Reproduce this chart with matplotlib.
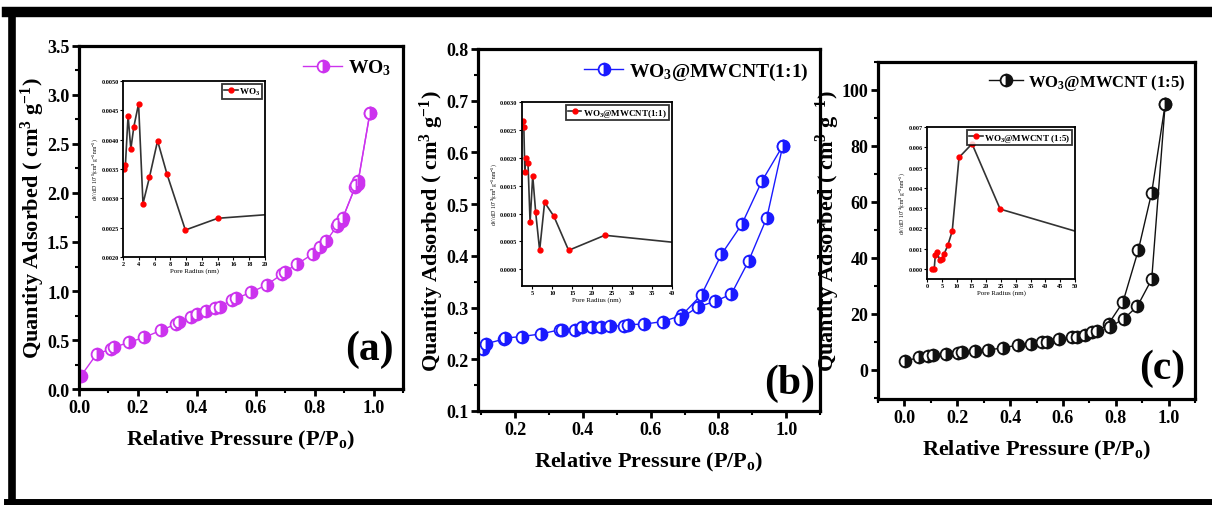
import matplotlib
matplotlib.use("Agg")
import matplotlib.pyplot as plt
from matplotlib.ticker import MultipleLocator, FormatStrFormatter
from matplotlib.lines import Line2D

plt.rcParams['font.family'] = ['Liberation Serif', 'DejaVu Serif']
plt.rcParams['font.weight'] = 'bold'
plt.rcParams['mathtext.fontset'] = 'custom'
plt.rcParams['mathtext.rm'] = 'Liberation Serif:bold'
plt.rcParams['mathtext.it'] = 'Liberation Serif:bold'
plt.rcParams['mathtext.bf'] = 'Liberation Serif:bold'

# ---------------- data: main isotherms ----------------
a_ads_x = [0.007, 0.06, 0.109, 0.12, 0.168, 0.222, 0.279, 0.33, 0.339, 0.379, 0.40, 0.43,
           0.461, 0.48, 0.518, 0.533, 0.584, 0.638, 0.69, 0.698, 0.741, 0.793, 0.818, 0.84,
           0.875, 0.892, 0.937, 0.946, 0.988]
a_ads_y = [0.136, 0.357, 0.408, 0.425, 0.476, 0.527, 0.60, 0.663, 0.68, 0.73, 0.765, 0.80,
           0.826, 0.84, 0.911, 0.925, 0.986, 1.064, 1.173, 1.197, 1.275, 1.377, 1.445, 1.513,
           1.659, 1.717, 2.056, 2.09, 2.821]
a_des_x = [0.988, 0.948, 0.94, 0.895, 0.88]
a_des_y = [2.821, 2.12, 2.08, 1.74, 1.68]

b_ads_x = [0.105, 0.114, 0.166, 0.17, 0.219, 0.276, 0.331, 0.338, 0.375, 0.397, 0.427, 0.453,
           0.48, 0.52, 0.532, 0.581, 0.636, 0.692, 0.75, 0.809, 0.869, 0.928, 0.99]
b_ads_y = [0.220, 0.230, 0.239, 0.241, 0.244, 0.249, 0.257, 0.257, 0.257, 0.263, 0.263, 0.263,
           0.264, 0.265, 0.267, 0.268, 0.273, 0.285, 0.325, 0.403, 0.461, 0.544, 0.613]
b_des_x = [0.99, 0.943, 0.889, 0.838, 0.79, 0.739, 0.686]
b_des_y = [0.613, 0.474, 0.390, 0.326, 0.312, 0.301, 0.278]

c_ads_x = [0.004, 0.054, 0.089, 0.108, 0.159, 0.204, 0.217, 0.268, 0.316, 0.373, 0.431, 0.478,
           0.522, 0.541, 0.586, 0.633, 0.653, 0.682, 0.71, 0.729, 0.773, 0.827, 0.885, 0.936, 0.987]
c_ads_y = [3.0, 4.4, 4.9, 5.3, 5.6, 6.0, 6.2, 6.6, 7.0, 7.8, 8.8, 9.2,
           9.8, 10.0, 10.8, 11.5, 11.8, 12.4, 13.4, 13.7, 16.4, 24.1, 42.6, 63.3, 94.9]
c_des_x = [0.987, 0.936, 0.882, 0.831, 0.78]
c_des_y = [94.9, 32.3, 22.7, 18.2, 15.4]

# ---------------- data: insets (pore size distribution) ----------------
ia_x = [2.09, 2.3, 2.64, 2.99, 3.37, 3.97, 4.53, 5.35, 6.38, 7.58, 9.9, 14.0, 24.0]
ia_y = [0.00350, 0.00356, 0.00441, 0.00384, 0.00422, 0.00461, 0.00291, 0.00336, 0.00398,
        0.00341, 0.00246, 0.00266, 0.00276]
ib_x = [2.68, 2.85, 3.1, 3.4, 3.9, 4.42, 5.08, 5.83, 6.82, 8.07, 10.4, 14.1, 23.2, 45.0]
ib_y = [0.00266, 0.00255, 0.00175, 0.00200, 0.00190, 0.00084, 0.00168, 0.00102, 0.00034,
        0.00120, 0.00095, 0.00034, 0.00061, 0.00045]
ic_x = [1.7, 2.4, 2.8, 3.4, 4.3, 5.1, 5.8, 7.0, 8.5, 10.8, 15.2, 24.7, 55.0]
ic_y = [-0.00003, -0.00003, 0.00070, 0.00083, 0.00042, 0.00050, 0.00075, 0.00116, 0.00186,
        0.00550, 0.00617, 0.00295, 0.00165]

labels = ['WO$_3$', 'WO$_3$@MWCNT(1:1)', 'WO$_3$@MWCNT (1:5)']
panel_tags = ['(a)', '(b)', '(c)']
colors = ['#CC33EE', '#1A1AFF', '#111111']

fig = plt.figure(figsize=(12.12, 5.06), dpi=100)

# outer frame
fig.add_artist(Line2D([0.006, 1.0], [0.9743, 0.9743], transform=fig.transFigure, color='black', lw=7.5))
fig.add_artist(Line2D([0.0095, 0.0095], [0.0, 0.9743], transform=fig.transFigure, color='black', lw=5.5))
fig.add_artist(Line2D([0.006, 1.0], [0.0055, 0.0055], transform=fig.transFigure, color='black', lw=5))

main_rects = [[0.0652, 0.2292, 0.2673, 0.678],
              [0.3944, 0.1858, 0.2822, 0.7154],
              [0.7244, 0.2095, 0.2616, 0.666]]
inset_rects = [[0.1015, 0.4901, 0.1172, 0.3478],
               [0.4304, 0.4328, 0.1238, 0.3636],
               [0.7649, 0.4466, 0.1221, 0.3004]]

ads = [(a_ads_x, a_ads_y, a_des_x, a_des_y), (b_ads_x, b_ads_y, b_des_x, b_des_y),
       (c_ads_x, c_ads_y, c_des_x, c_des_y)]
ins = [(ia_x, ia_y), (ib_x, ib_y), (ic_x, ic_y)]

xlims = [(0, 1.1), (0.09, 1.1), (-0.1, 1.1)]
ylims = [(0, 3.5), (0.1, 0.8), (-10.5, 110)]
ymaj = [0.5, 0.1, 20]
yfmt = ['%.1f', '%.1f', '%d']
xlabel_pad = [9, 9, 9]
ylabel_pad = [0, 0, 0]
leg_size = [14, 14, 12]
tag_pos = [(0.97, 0.06), (0.985, 0.025), (0.97, 0.035)]

ins_xlim = [(2, 20), (2.3, 40), (0, 50)]
ins_ylim = [(0.0020, 0.0050), (-0.0003, 0.0030), (-0.0005, 0.0070)]
ins_xmaj = [2, 5, 5]
ins_ymaj = [0.0005, 0.0005, 0.001]
ins_yfmt = ['%.4f', '%.4f', '%.3f']
ins_ylab = ["dV/dD' 10$^{-1}$(cm$^3$ g$^{-1}$ nm$^{-1}$)",
            "dV/dD' 10$^{-3}$(cm$^3$ g$^{-1}$ nm$^{-1}$)",
            "dV/dD' 10$^{-3}$(cm$^3$ g$^{-1}$ nm$^{-1}$)"]
ins_xlab = ['Pore Radius (nm)', 'Pore Radius (nm)', 'Pore Radius (nm)']

for i in range(3):
    ax = fig.add_axes(main_rects[i])
    axx, ayy, dxx, dyy = ads[i]
    c = colors[i]
    mk = dict(marker='o', markersize=8.5, fillstyle='right', markerfacecoloralt='white',
              markeredgecolor=c, markerfacecolor=c, markeredgewidth=1.3)
    ax.plot(axx, ayy, color=c, lw=1.0, label=labels[i], **mk)
    ax.plot(dxx, dyy, color=c, lw=1.0, **mk)
    ax.set_xlim(*xlims[i])
    ax.set_ylim(*ylims[i])
    ax.xaxis.set_major_locator(MultipleLocator(0.2))
    ax.xaxis.set_minor_locator(MultipleLocator(0.1))
    ax.yaxis.set_major_locator(MultipleLocator(ymaj[i]))
    ax.yaxis.set_minor_locator(MultipleLocator(ymaj[i] / 2))
    ax.xaxis.set_major_formatter(FormatStrFormatter('%.1f'))
    ax.yaxis.set_major_formatter(FormatStrFormatter(yfmt[i]))
    if i == 1:
        ax.set_xticks([0.2, 0.4, 0.6, 0.8, 1.0])
    else:
        ax.set_xticks([0.0, 0.2, 0.4, 0.6, 0.8, 1.0])
    for s in ax.spines.values():
        s.set_linewidth(2.3)
    ax.tick_params(which='major', direction='out', length=5, width=2, labelsize=13, pad=2)
    ax.tick_params(which='minor', direction='out', length=3, width=1.5)
    for t in ax.get_xticklabels() + ax.get_yticklabels():
        t.set_fontweight('bold')
    ax.set_xlabel('Relative Pressure (P/P$_o$)', fontsize=16, fontweight='bold', labelpad=xlabel_pad[i])
    ax.set_ylabel('Quantity Adsorbed ( cm$^3$ g$^{-1}$)', fontsize=16, fontweight='bold',
                  labelpad=ylabel_pad[i])
    ax.legend(loc='upper right', frameon=False, fontsize=leg_size[i], handlelength=2.0,
              handletextpad=0.3, borderaxespad=0.2)
    ax.text(tag_pos[i][0], tag_pos[i][1], panel_tags[i], transform=ax.transAxes,
            ha='right', va='bottom', fontsize=30, fontweight='bold')

    # inset
    ix, iy = ins[i]
    ia = fig.add_axes(inset_rects[i])
    ia.plot(ix, iy, color='#333333', lw=1.2, marker='o', markersize=3.5,
            markerfacecolor='red', markeredgecolor='red', label=labels[i])
    ia.set_xlim(*ins_xlim[i])
    ia.set_ylim(*ins_ylim[i])
    ia.xaxis.set_major_locator(MultipleLocator(ins_xmaj[i]))
    ia.yaxis.set_major_locator(MultipleLocator(ins_ymaj[i]))
    ia.yaxis.set_major_formatter(FormatStrFormatter(ins_yfmt[i]))
    ia.xaxis.set_major_formatter(FormatStrFormatter('%d'))
    if i == 1:
        ia.set_xticks([5, 10, 15, 20, 25, 30, 35, 40])
    for s in ia.spines.values():
        s.set_linewidth(1.3)
    ia.tick_params(direction='out', length=2, width=0.8, labelsize=4.5, pad=1)
    ia.set_xlabel(ins_xlab[i], fontsize=5, labelpad=1)
    ia.set_ylabel(ins_ylab[i], fontsize=4, labelpad=1)
    il = ia.legend(loc='upper right', fontsize=6.5, frameon=True, fancybox=False,
                   edgecolor='black', handlelength=1.5, handletextpad=0.2,
                   borderpad=0.2, borderaxespad=0.3)
    il.get_frame().set_linewidth(1.3)

fig.savefig('out.png', dpi=100)
